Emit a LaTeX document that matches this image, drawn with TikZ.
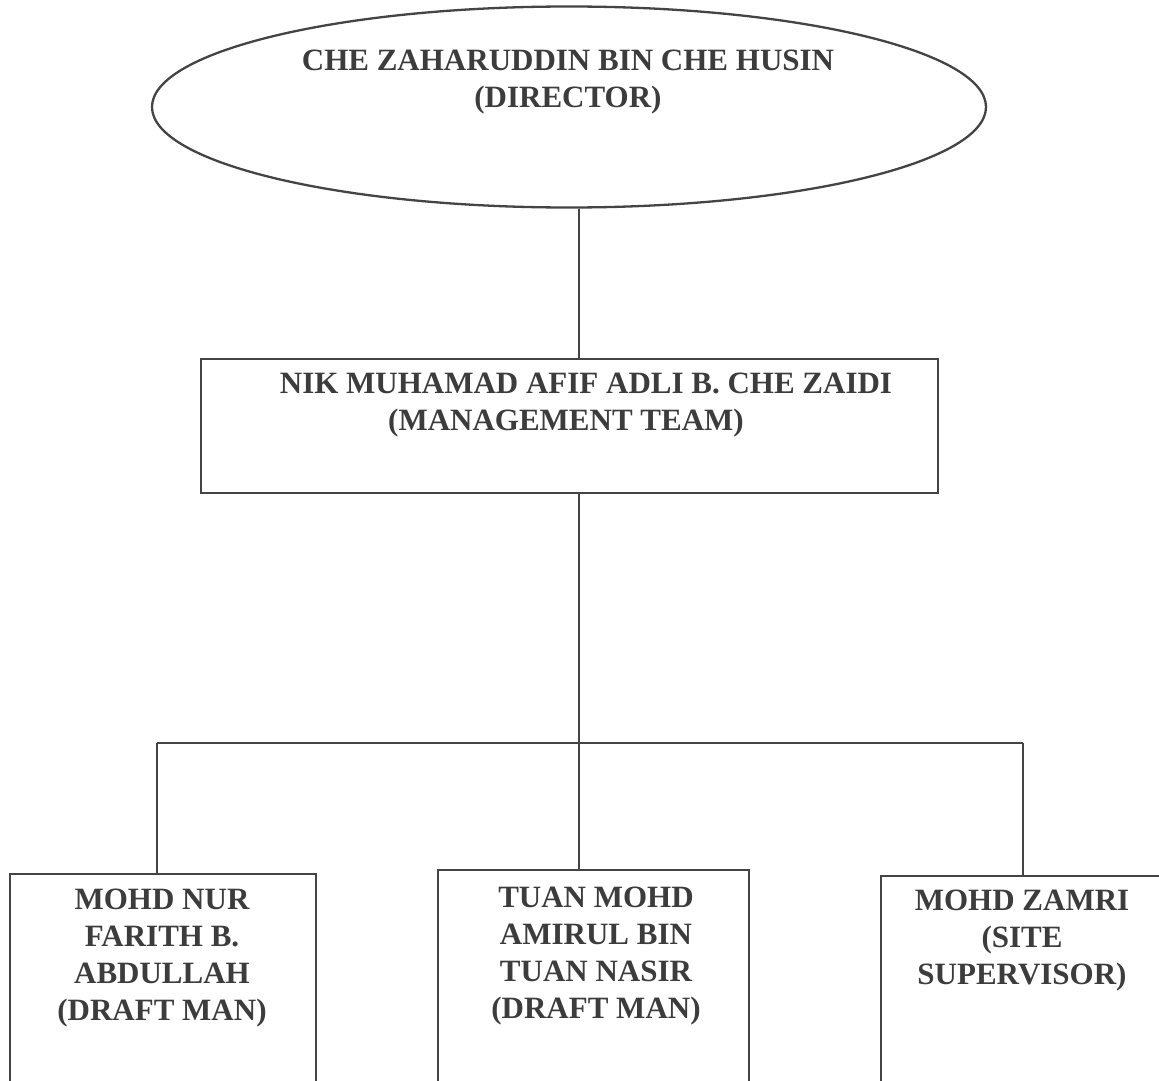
\documentclass[tikz,border=0pt]{standalone}
\usepackage{fontspec}
\setmainfont{Liberation Serif}
\usetikzlibrary{shapes.geometric}
\definecolor{inkgray}{HTML}{444444}
\definecolor{txtgray}{HTML}{3C3C3C}
\tikzset{
  director/.style={ellipse,draw=inkgray,line width=2.3pt,minimum width=834pt,minimum height=201pt,inner sep=0pt},
  orgbox/.style={rectangle,draw=inkgray,line width=2.4pt,anchor=north west,inner sep=0pt},
  nametext/.style={text=txtgray,font=\bfseries\fontsize{31}{37}\selectfont,align=center,inner sep=0pt},
  link/.style={draw=inkgray,line width=1.9pt},
}
\begin{document}
\begin{tikzpicture}[x=1pt,y=-1pt]
\useasboundingbox (0,0) rectangle (1159,1081);
\clip (0,0) rectangle (1159,1081);
% top
\node[director] (dir) at (569,107) {};
\node[nametext] (dirtxt) at (568,82) {CHE ZAHARUDDIN BIN CHE HUSIN\\(DIRECTOR)};
\node[orgbox,minimum width=737pt,minimum height=134pt] (mgr) at (200,358) {};
\node[nametext] (mgrtxt) at (566,405) {\hspace*{40pt}NIK MUHAMAD AFIF ADLI B. CHE ZAIDI\\(MANAGEMENT TEAM)};
% staff
\node[orgbox,minimum width=306pt,minimum height=240pt] (s1) at (9,873) {};
\node[orgbox,minimum width=311pt,minimum height=240pt] (s2) at (437,869) {};
\node[orgbox,minimum width=290pt,minimum height=240pt] (s3) at (880,875) {};
\node[nametext] (s1txt) at (162,958) {MOHD NUR\\FARITH B.\\ABDULLAH\\(DRAFT MAN)};
\node[nametext] (s2txt) at (596,956) {TUAN MOHD\\AMIRUL BIN\\TUAN NASIR\\(DRAFT MAN)};
\node[nametext] (s3txt) at (1022,941) {MOHD ZAMRI\\(SITE\\SUPERVISOR)};
% lines
\coordinate (trunk) at (579,0);
\coordinate (busL) at (157,743);\coordinate (busR) at (1023,743);
\draw[link] (dir.south -| trunk) -- (mgr.north -| trunk);
\draw[link] (mgr.south -| trunk) -- (trunk |- busL);
\draw[link] (busL) -- (busR);
\draw[link] (busL) -- (busL |- s1.north);
\draw[link] (trunk |- busL) -- (trunk |- s2.north);
\draw[link] (busR) -- (busR |- s3.north);
\end{tikzpicture}
\end{document}
